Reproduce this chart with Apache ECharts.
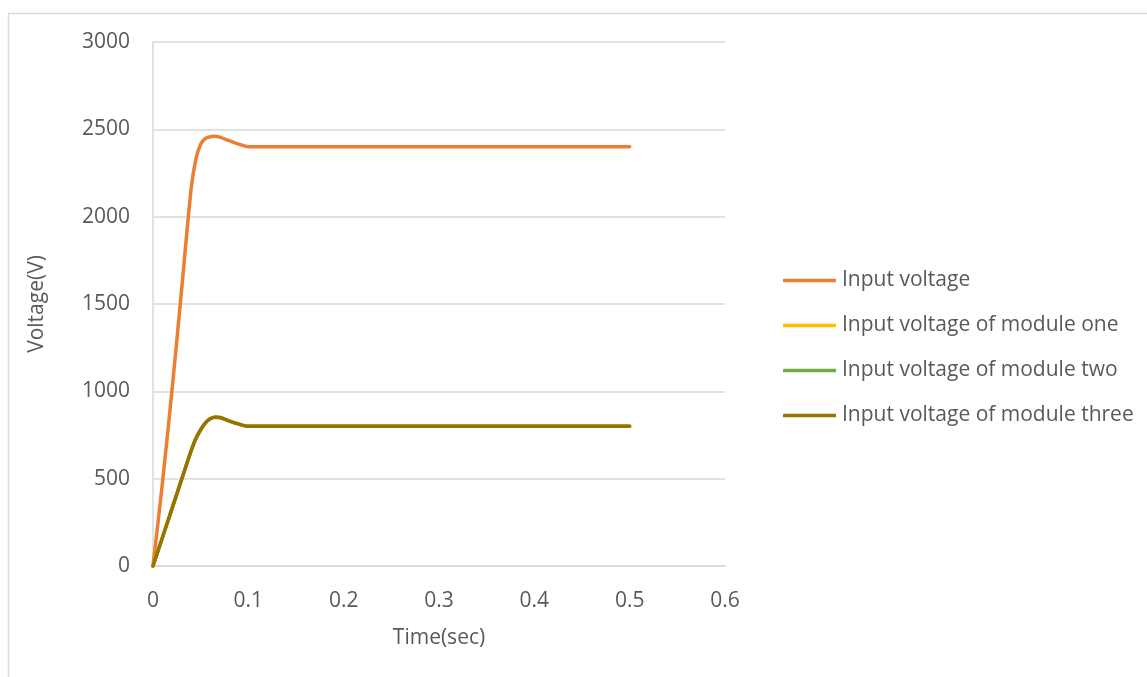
<!DOCTYPE html>
<html>
<head>
<meta charset="utf-8">
<script src="https://cdn.jsdelivr.net/npm/echarts@6/dist/echarts.min.js"></script>
<style>html,body{margin:0;padding:0;background:#fff}#c{width:1147px;height:677px}</style>
</head>
<body>
<div id="c"></div>
<script>
const seriesNames = ['Input voltage', 'Input voltage of module one', 'Input voltage of module two', 'Input voltage of module three'];
const time = [0, 0.01, 0.02, 0.03, 0.04, 0.045, 0.05, 0.055, 0.06, 0.065, 0.07, 0.08, 0.09, 0.1, 0.2, 0.3, 0.4, 0.5];
const inputVoltage = [0, 480, 1010, 1580, 2160, 2330, 2415, 2448, 2458, 2460, 2455, 2435, 2415, 2400, 2400, 2400, 2400, 2400];
const moduleOne = [0, 165, 330, 495, 660, 730, 780, 820, 843, 852, 850, 830, 812, 800, 800, 800, 800, 800];
const moduleTwo = [0, 165, 330, 495, 660, 730, 780, 820, 843, 852, 850, 830, 812, 800, 800, 800, 800, 800];
const moduleThree = [0, 165, 330, 495, 660, 730, 780, 820, 843, 852, 850, 830, 812, 800, 800, 800, 800, 800];
const colors = ['#ED7D31', '#FFC000', '#70AD47', '#997300'];
const values = [inputVoltage, moduleOne, moduleTwo, moduleThree];

const font = '"Open Sans", sans-serif';
const fs = 21;
const chart = echarts.init(document.getElementById('c'));
chart.setOption({
  animation: false,
  color: colors,
  graphic: [
    { type: 'line', shape: { x1: 8, y1: 13.5, x2: 1147, y2: 13.5 }, style: { stroke: '#D9D9D9', lineWidth: 1.5 }, silent: true },
    { type: 'line', shape: { x1: 8.5, y1: 13, x2: 8.5, y2: 677 }, style: { stroke: '#D9D9D9', lineWidth: 1.5 }, silent: true }
  ],
  grid: { left: 153, right: 422, top: 42, bottom: 111 },
  legend: {
    orient: 'vertical',
    left: 783,
    top: 270,
    padding: 0,
    icon: 'roundRect',
    itemWidth: 53,
    itemHeight: 3.5,
    itemGap: 24,
    data: seriesNames,
    textStyle: { fontFamily: font, fontSize: fs, color: '#595959', lineHeight: 21, padding: [0, 0, 0, 1] }
  },
  xAxis: {
    type: 'value',
    min: 0, max: 0.6, interval: 0.1,
    name: 'Time(sec)',
    nameLocation: 'middle',
    nameGap: 62,
    nameTextStyle: { fontFamily: font, fontSize: fs, color: '#595959' },
    axisLine: { show: true, lineStyle: { color: '#D9D9D9', width: 1.5 } },
    axisTick: { show: false },
    splitLine: { show: false },
    axisLabel: { fontFamily: font, fontSize: fs, color: '#595959', margin: 25 }
  },
  yAxis: {
    type: 'value',
    min: 0, max: 3000, interval: 500,
    name: 'Voltage(V)',
    nameLocation: 'middle',
    nameGap: 105,
    nameTextStyle: { fontFamily: font, fontSize: fs, color: '#595959' },
    axisLine: { show: true, lineStyle: { color: '#D9D9D9', width: 1.5 } },
    axisTick: { show: false },
    splitLine: { show: true, lineStyle: { color: '#D9D9D9', width: 1.5 } },
    axisLabel: { fontFamily: font, fontSize: fs, color: '#595959', margin: 23, formatter: v => String(v) }
  },
  series: seriesNames.map((n, i) => ({
    name: n,
    type: 'line',
    smooth: 0.3,
    symbol: 'none',
    lineStyle: { width: 3.5, color: colors[i], cap: 'round' },
    data: time.map((t, j) => [t, values[i][j]])
  }))
});
</script>
</body>
</html>
